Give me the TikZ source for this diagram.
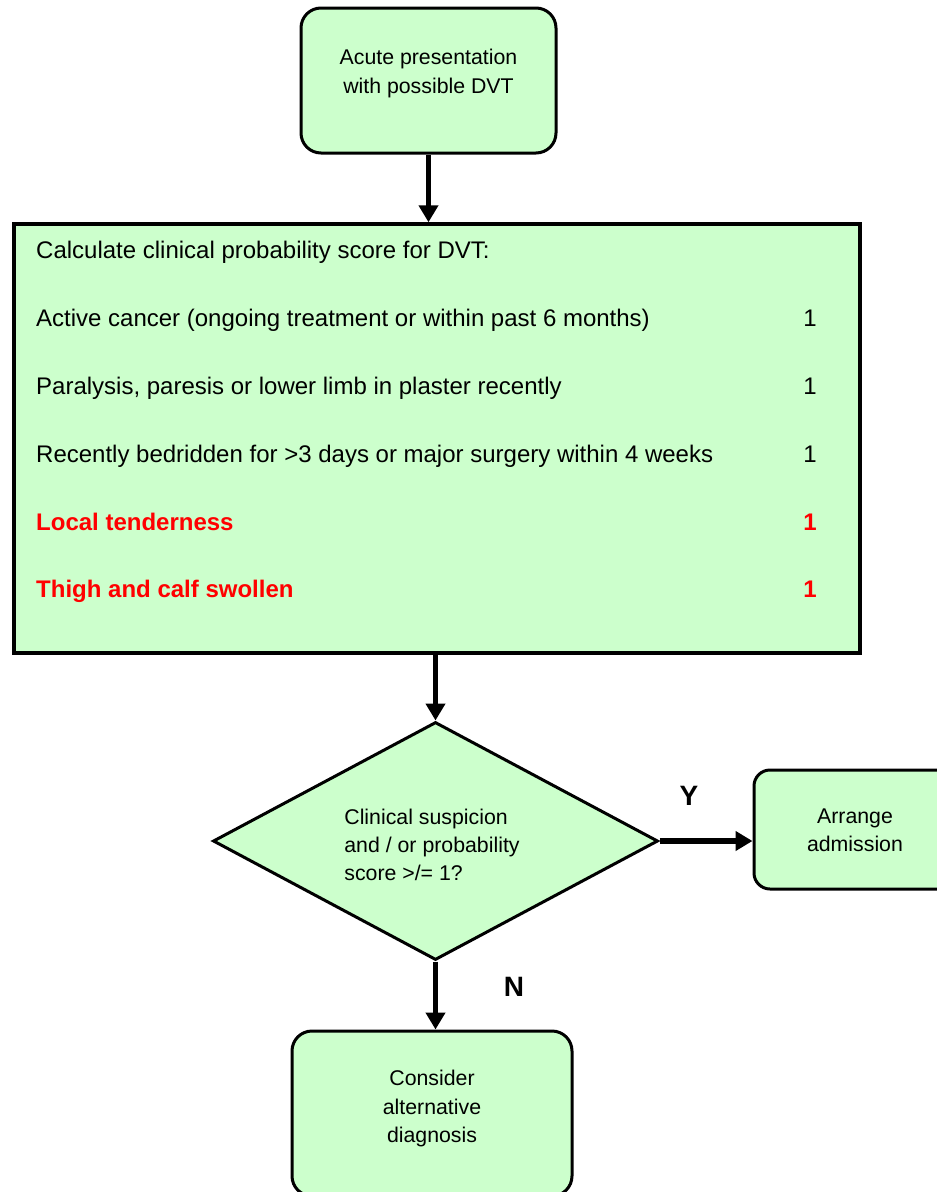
\documentclass[tikz,border=0pt]{standalone}
\usepackage{fontspec}
\setmainfont{Liberation Sans}
\usetikzlibrary{arrows.meta,shapes.geometric,calc}
\definecolor{boxgreen}{HTML}{CCFFCC}
\definecolor{redtxt}{HTML}{FF0000}
\begin{document}
\begin{tikzpicture}[x=1pt,y=-1pt,
  rbox/.style={draw, line width=3pt, fill=boxgreen, rounded corners=20pt, inner sep=0pt},
  sbox/.style={draw, line width=3.5pt, fill=boxgreen, inner sep=0pt},
  dbox/.style={draw, line width=3pt, fill=boxgreen, diamond, inner sep=0pt},
  small/.style={font=\fontsize{21.3}{28.3}\selectfont, align=center, inner sep=0pt},
  big/.style={font=\fontsize{24}{28}\selectfont, inner sep=0pt},
  bigred/.style={font=\fontsize{24}{28}\selectfont\bfseries, text=redtxt, inner sep=0pt},
  arr/.style={line width=5.5pt, -{Triangle[width=19pt,length=17pt]}},
  yn/.style={font=\fontsize{28}{30}\selectfont\bfseries, inner sep=0pt}]
\useasboundingbox (0,0) rectangle (937,1192);
\clip (0,0) rectangle (937,1192);
% boxes
\node[rbox, minimum width=255pt, minimum height=145pt,
  label={[small, yshift=7pt]center:Acute presentation\\with possible DVT}] (top) at (428.5,80.5) {};
\node[sbox, minimum width=846pt, minimum height=429pt] (main) at (437,438.5) {};
\node[dbox, minimum width=445pt, minimum height=238pt, aspect=1.87] (dia) at (435.5,841) {};
\node[small, align=left] (dtext) at (432,845) {Clinical suspicion\\and / or probability\\score >/= 1?};
\node[rbox, rounded corners=16pt, minimum width=202pt, minimum height=119pt,
  label={[small, yshift=-1pt]center:Arrange\\admission}] (adm) at (855,829.5) {};
\node[rbox, minimum width=280pt, minimum height=165pt,
  label={[small, yshift=5pt]center:Consider\\alternative\\diagnosis}] (alt) at (432,1113.5) {};
% main box text
\node[big, anchor=base west] (t0) at (36,258) {Calculate clinical probability score for DVT:};
\node[big, anchor=base west] (t1) at (36,326) {Active cancer (ongoing treatment or within past 6 months)};
\node[big, anchor=base west] (t2) at (36,394) {Paralysis, paresis or lower limb in plaster recently};
\node[big, anchor=base west] (t3) at (36,462) {Recently bedridden for >3 days or major surgery within 4 weeks};
\node[bigred, anchor=base west] (t4) at (36,530) {Local tenderness};
\node[bigred, anchor=base west] (t5) at (36,597) {Thigh and calf swollen};
\node[big, anchor=base] (n1) at (810,326) {1};
\node[big, anchor=base] (n2) at (810,394) {1};
\node[big, anchor=base] (n3) at (810,462) {1};
\node[bigred, anchor=base] (n4) at (810,530) {1};
\node[bigred, anchor=base] (n5) at (810,597) {1};
% connectors
\draw[arr] (top.south) -- (top.south |- main.north);
\draw[arr] (dia.north |- main.south) -- (dia.north);
\draw[arr] (dia.east) -- (adm.west |- dia.east);
\draw[arr] (dia.south) -- (dia.south |- alt.north);
\node[yn] (ylab) at (689,796) {Y};
\node[yn] (nlab) at (514,987) {N};
\end{tikzpicture}
\end{document}
